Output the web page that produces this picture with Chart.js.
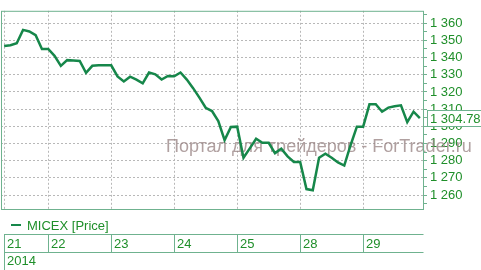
<!DOCTYPE html>
<html>
<head>
<meta charset="utf-8">
<script src="https://cdn.jsdelivr.net/npm/chart.js@4.4.0/dist/chart.umd.min.js"></script>
<style>
  html, body { margin: 0; padding: 0; background: #fff; }
  #wrap { width: 481px; height: 270px; position: relative; }
</style>
</head>
<body>
<div id="wrap"><canvas id="myChart" width="481" height="270"></canvas></div>
<script>
// hourly MICEX closes, 21-29 Jan 2014
let prices = [
    1346.7, 1347.2, 1348.3, 1356.1, 1355.2, 1353.0, 1345.0,
    1345.0, 1341.0, 1335.2, 1338.5, 1338.3, 1338.0, 1331.1, 1335.2, 1335.5, 1335.5,
    1335.5, 1329.0, 1326.1, 1328.9, 1327.2, 1325.0, 1331.3, 1330.2, 1327.2, 1329.3,
    1329.1, 1331.3, 1327.2, 1322.2, 1316.7, 1310.8, 1308.9, 1303.0, 1292.0, 1299.6,
    1299.8, 1281.7, 1287.2, 1292.8, 1290.4, 1290.4, 1284.4, 1287.0, 1282.5, 1279.3,
    1279.3, 1263.5, 1262.8, 1281.7, 1284.1, 1281.7, 1279.0, 1277.2, 1289.0, 1299.8,
    1299.8, 1312.8, 1312.8, 1308.5, 1310.9, 1311.7, 1312.2, 1302.4, 1308.5, 1304.78
];
let dayLabels = ['21', '22', '23', '24', '25', '28', '29'];
let dayStart = [0, 7, 17, 27, 37, 47, 57];
let yearLabel = '2014';
let seriesName = 'MICEX [Price]';
let watermark = 'Портал для трейдеров - ForTrader.ru';

const green = '#1f8f2a';
const lineGreen = '#16874a';
const frameGreen = '#6fb28f';
const font = '13px "Liberation Sans", Arial, sans-serif';

function fmt(v) {
    return Math.round(v).toString().replace(/\B(?=(\d{3})+(?!\d))/g, ' ');
}

const decor = {
    id: 'decor',
    beforeDatasetsDraw(chart) {
        const ctx = chart.ctx;
        ctx.save();
        ctx.font = '18px "Liberation Sans", Arial, sans-serif';
        ctx.fillStyle = 'rgba(150,128,128,0.75)';
        ctx.textBaseline = 'middle';
        ctx.fillText(watermark, 166, 147);
        ctx.restore();
    },
    afterDraw(chart) {
        const ctx = chart.ctx;
        const a = chart.chartArea;
        const xs = chart.scales.x;
        const ys = chart.scales.y;
        ctx.save();
        // plot frame
        ctx.strokeStyle = frameGreen;
        ctx.lineWidth = 1;
        ctx.strokeRect(a.left + 0.5, a.top + 0.5, a.right - a.left, a.bottom - a.top);

        // legend
        ctx.strokeStyle = lineGreen;
        ctx.lineWidth = 2;
        ctx.beginPath();
        ctx.moveTo(11, 225);
        ctx.lineTo(21, 225);
        ctx.stroke();
        ctx.font = font;
        ctx.fillStyle = green;
        ctx.textBaseline = 'alphabetic';
        ctx.fillText(seriesName, 27, 230);

        // date row
        const x0 = Math.round(xs.getPixelForValue(dayStart[0])) + 0.5;
        ctx.strokeStyle = frameGreen;
        ctx.lineWidth = 1;
        ctx.beginPath();
        ctx.moveTo(x0, 234.5); ctx.lineTo(a.right + 0.5, 234.5);
        ctx.moveTo(x0, 252.5); ctx.lineTo(a.right + 0.5, 252.5);
        ctx.moveTo(x0, 234); ctx.lineTo(x0, 270);
        ctx.stroke();
        dayLabels.forEach((d, i) => {
            const x = Math.round(xs.getPixelForValue(dayStart[i])) + 0.5;
            ctx.beginPath();
            ctx.moveTo(x, 234); ctx.lineTo(x, 253);
            ctx.stroke();
            ctx.fillText(d, x + 2.5, 248);
        });
        ctx.fillText(yearLabel, x0 + 2.5, 265);

        // last value box
        const last = prices[prices.length - 1];
        const yy = Math.round(ys.getPixelForValue(last));
        ctx.fillStyle = '#fff';
        ctx.fillRect(a.right + 4, yy - 8, 60, 17);
        ctx.strokeStyle = frameGreen;
        ctx.strokeRect(a.right + 4.5, yy - 7.5, 60, 16);
        ctx.fillStyle = green;
        ctx.textBaseline = 'middle';
        ctx.fillText(fmt(Math.floor(last)) + '.' + last.toFixed(2).split('.')[1], a.right + 7, yy + 1);
        ctx.restore();
    }
};

const ctx = document.getElementById('myChart').getContext('2d');
new Chart(ctx, {
    type: 'line',
    data: {
        datasets: [{
            label: seriesName,
            data: prices.map((v, i) => ({ x: i, y: v })),
            borderColor: lineGreen,
            borderWidth: 2.5,
            pointRadius: 0,
            tension: 0,
            fill: false
        }]
    },
    options: {
        responsive: false,
        animation: false,
        layout: { padding: { left: 1, top: 1, right: 0, bottom: 61 } },
        plugins: { legend: { display: false }, tooltip: { enabled: false } },
        scales: {
            x: {
                type: 'linear',
                min: -0.5,
                max: prices.length - 0.5,
                afterBuildTicks: s => { s.ticks = dayStart.map(v => ({ value: v })); },
                grid: { color: '#b8b8b8', drawTicks: false },
                border: { display: false, dash: [2, 2] },
                ticks: { display: false, autoSkip: false }
            },
            y: {
                position: 'right',
                min: 1251.9,
                max: 1367.2,
                afterFit: s => { s.width = 58; },
                afterBuildTicks: s => {
                    let t = [];
                    for (let v = 1255; v <= 1365; v += 5) t.push({ value: v });
                    s.ticks = t;
                },
                grid: {
                    color: c => (c.tick && c.tick.value % 10 === 0) ? '#b8b8b8' : 'rgba(0,0,0,0)',
                    tickColor: frameGreen,
                    tickLength: 4
                },
                border: { display: false, dash: [2, 2] },
                ticks: {
                    autoSkip: false,
                    padding: 3,
                    color: green,
                    font: { family: '"Liberation Sans", Arial, sans-serif', size: 13 },
                    callback: v => (v % 10 === 0 ? fmt(v) : '')
                }
            }
        }
    },
    plugins: [decor]
});
</script>
</body>
</html>
